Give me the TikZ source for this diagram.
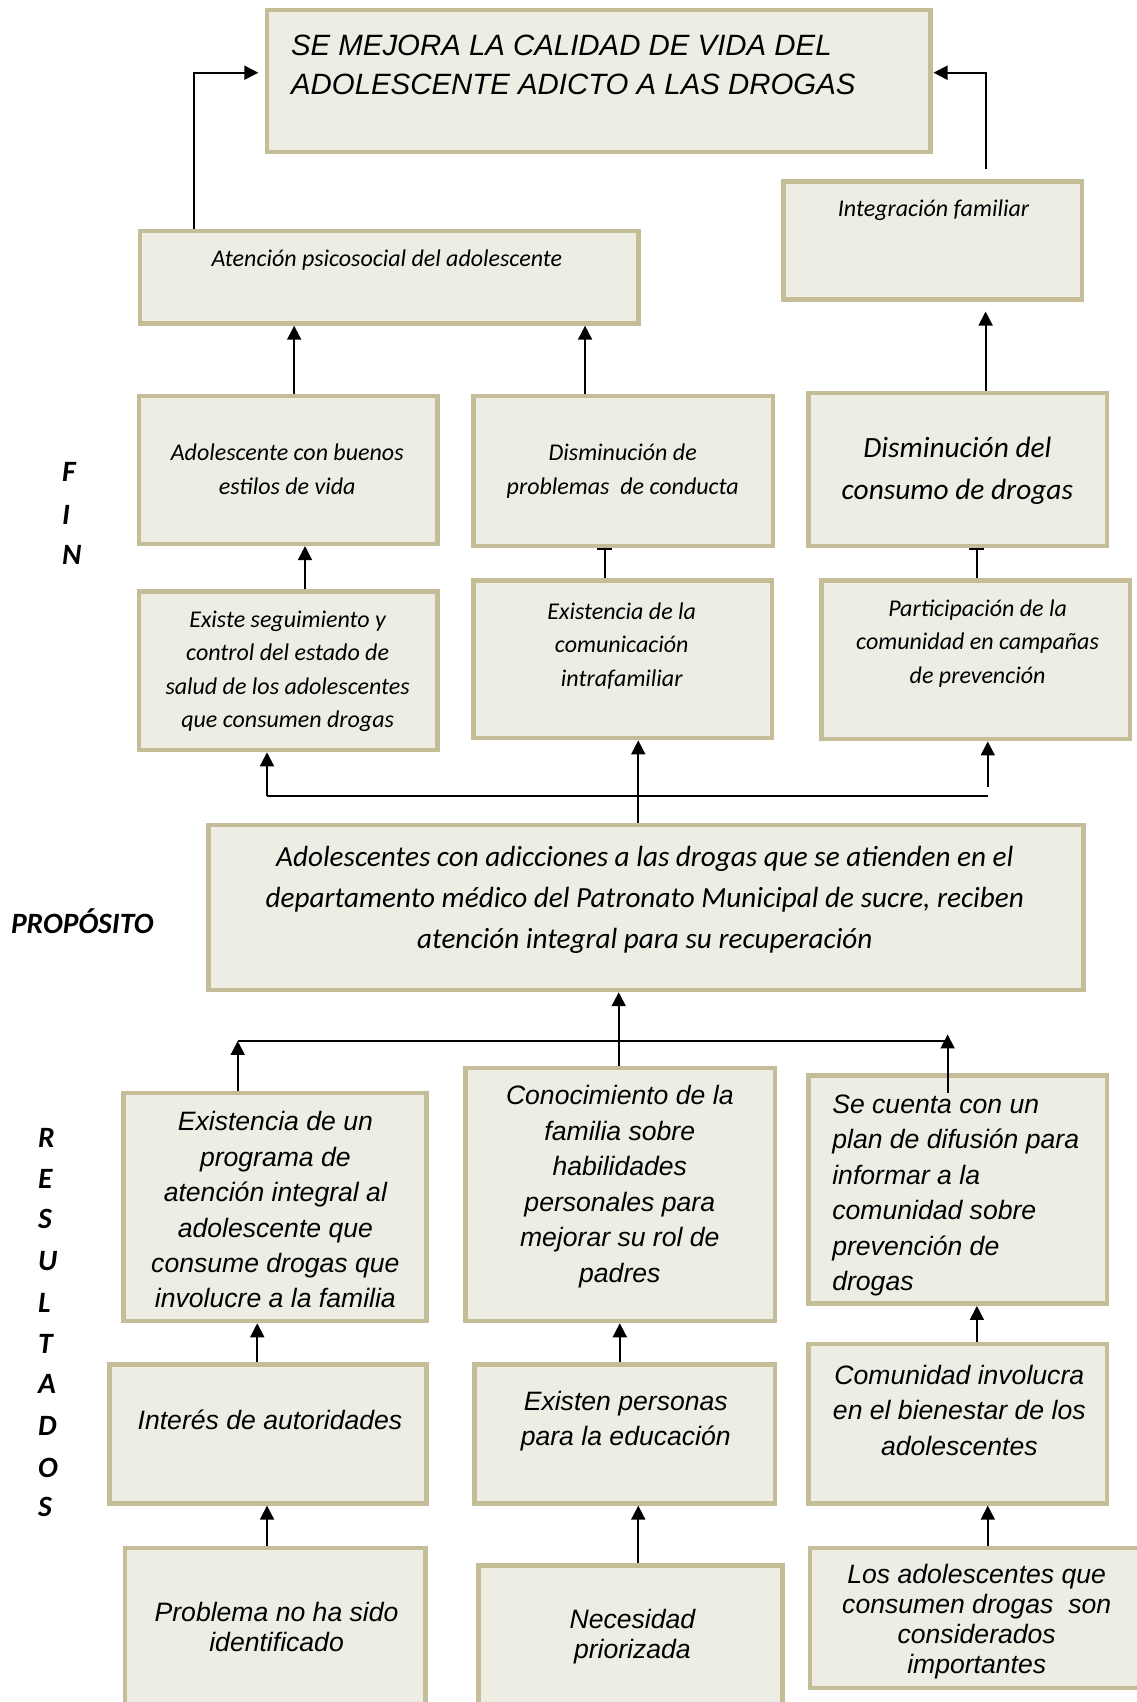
\documentclass[tikz,border=0pt]{standalone}
\usepackage{fontspec}
\usetikzlibrary{arrows.meta,fit}
\newfontfamily\calfont{Carlito}
\newfontfamily\arifont{Liberation Sans}
\definecolor{boxfill}{HTML}{EEEDE4}
\definecolor{boxline}{HTML}{C4BD97}
\newcommand\mybox[5]{\node[box,fit={(#2+2,#3+2) (#4-2,#5-2)}] (#1) {};}
\begin{document}
\begin{tikzpicture}[x=1.086pt,y=-1.086pt,
 box/.style={draw=boxline,fill=boxfill,line width=4.5pt,inner sep=0pt,rectangle},
 cal/.style={font=\calfont\itshape\fontsize{24}{33.5}\selectfont,align=center,inner sep=0pt},
 calbig/.style={font=\calfont\itshape\fontsize{29.4}{42}\selectfont,align=center,inner sep=0pt},
 calmid/.style={font=\calfont\itshape\fontsize{29.2}{41.5}\selectfont,align=center,inner sep=0pt},
 ari/.style={font=\arifont\itshape\fontsize{26.6}{35.5}\selectfont,align=center,inner sep=0pt},
 aritight/.style={font=\arifont\itshape\fontsize{26.6}{30}\selectfont,align=center,inner sep=0pt},
 titletext/.style={font=\arifont\itshape\fontsize{29.4}{39}\selectfont,align=left,inner sep=0pt,anchor=west},
 side/.style={font=\calfont\bfseries\itshape\fontsize{29.5}{34}\selectfont,inner sep=0pt,anchor=west},
 arr/.style={line width=1.8pt,-{Triangle[width=14pt,length=14pt]}},
 bararr/.style={line width=1.8pt,-{Bar[width=15pt,line width=2pt]}},
 ln/.style={line width=1.8pt}]
\useasboundingbox (0,0) rectangle (1047,1568);
% boxes
\mybox{b1}{244}{7}{859}{142}
\mybox{b2}{127}{211}{590}{300}
\mybox{b3}{720}{165}{999}{278}
\mybox{b4}{126}{363}{405}{503}
\mybox{b5}{434}{363}{714}{505}
\mybox{b6}{743}{360}{1022}{505}
\mybox{b7}{126}{543}{405}{693}
\mybox{b8}{434}{533}{713}{682}
\mybox{b9}{755}{533}{1043}{683}
\mybox{b10}{190}{758}{1000}{914}
\mybox{b11}{112}{1005}{395}{1219}
\mybox{b12}{427}{982}{716}{1219}
\mybox{b13}{743}{989}{1022}{1203}
\mybox{b14}{99}{1255}{395}{1387}
\mybox{b15}{435}{1255}{716}{1387}
\mybox{b16}{743}{1236}{1022}{1387}
\mybox{b17}{113}{1424}{394}{1600}
\mybox{b18}{439}{1440}{723}{1600}
\mybox{b19}{744}{1424}{1060}{1557}
% texts
\node[titletext] (t1) at (268,60) {SE MEJORA LA CALIDAD DE VIDA DEL\\ADOLESCENTE ADICTO A LAS DROGAS};
\node[cal] (t2) at (356.5,240) {Atención psicosocial del adolescente};
\node[cal] (t3) at (860,193.5) {Integración familiar};
\node[cal] (t4) at (264.6,432.5) {Adolescente con buenos\\estilos de vida};
\node[cal] (t5) at (573.7,434) {Disminución de\\problemas\ \ de conducta};
\node[calbig] (t6) at (882,434) {Disminución del\\consumo de drogas};
\node[cal] (t7) at (265,618.5) {Existe seguimiento y\\control del estado de\\salud de los adolescentes\\que consumen drogas};
\node[cal] (t8) at (572.8,595) {Existencia de la\\comunicación\\intrafamiliar};
\node[cal] (t9) at (900.6,592.5) {Participación de la\\comunidad en campañas\\de prevención};
\node[calmid] (t10) at (594,829) {Adolescentes con adicciones a las drogas que se atienden en el\\departamento médico del Patronato Municipal de sucre, reciben\\atención integral para su recuperación};
\node[ari] (t11) at (253.7,1114.5) {Existencia de un\\programa de\\atención integral al\\adolescente que\\consume drogas que\\involucre a la familia};
\node[ari] (t12) at (571,1093) {Conocimiento de la\\familia sobre\\habilidades\\personales para\\mejorar su rol de\\padres};
\node[ari,align=left,anchor=west] (t13) at (766.6,1101.5) {Se cuenta con un\\plan de difusión para\\informar a la\\comunidad sobre\\prevención de\\drogas};
\node[ari] (t14) at (248.7,1308.5) {Interés de autoridades};
\node[ari] (t15) at (576.5,1309) {Existen personas\\para la educación};
\node[ari] (t16) at (883.8,1299) {Comunidad involucra\\en el bienestar de los\\adolescentes};
\node[aritight] (t17) at (254.8,1498.5) {Problema no ha sido\\identificado};
\node[aritight] (t18) at (582.6,1507.5) {Necesidad\\priorizada};
\node[aritight] (t19) at (899.8,1494) {Los adolescentes que\\consumen drogas\ \ son\\considerados\\importantes};
% side labels
\node[side] (sF) at (57,435) {F};
\node[side] (sI) at (57,474) {I};
\node[side] (sN) at (57,511) {N};
\node[side] (sP) at (10,849) {PROPÓSITO};
\node[side] (sR1) at (35,1048) {R};
\node[side] (sR2) at (35,1086) {E};
\node[side] (sR3) at (35,1123.4) {S};
\node[side] (sR4) at (35,1161.8) {U};
\node[side] (sR5) at (35,1200) {L};
\node[side] (sR6) at (35,1238.5) {T};
\node[side] (sR7) at (35,1275.3) {A};
\node[side] (sR8) at (35,1313.7) {D};
\node[side] (sR9) at (35,1352) {O};
\node[side] (sR10) at (35,1388.6) {S};
% helper coordinates
\coordinate (xa) at (271,0);
\coordinate (xb) at (539,0);
\coordinate (xc) at (281,0);
\coordinate (xd) at (557,0);
\coordinate (xe) at (900,0);
\coordinate (xf) at (246,0);
\coordinate (xg) at (588,0);
\coordinate (xh) at (910,0);
\coordinate (xi) at (570,0);
\coordinate (xl) at (237,0);
\coordinate (xm) at (571,0);
% connectors
\coordinate (c1a) at (179,67);
\coordinate (c1b) at (238,67);
\draw[arr] (b2.north -| c1a) -- (c1a) -- (c1b);
\coordinate (c2a) at (908,156);
\coordinate (c2b) at (908,67);
\coordinate (c2c) at (860,67);
\draw[arr] (c2a) -- (c2b) -- (c2c);
\coordinate (c3) at (908,287);
\draw[arr] (b6.north -| c3) -- (c3);
\draw[arr] (b4.north -| xa) -- (b2.south -| xa);
\draw[arr] (b5.north -| xb) -- (b2.south -| xb);
\draw[arr] (b7.north -| xc) -- (b4.south -| xc);
\draw[bararr] (b8.north -| xd) -- (b5.south -| xd);
\draw[bararr] (b9.north -| xe) -- (b6.south -| xe);
\coordinate (h1) at (246,733);
\coordinate (h2) at (910,733);
\coordinate (h3) at (910,725);
\draw[ln] (h1) -- (h2);
\draw[arr] (h1) -- (b7.south -| h1);
\draw[arr] (h3) -- (b9.south -| h3);
\draw[arr] (b10.north -| xg) -- (b8.south -| xg);
\draw[arr] (b12.north -| xi) -- (b10.south -| xi);
\coordinate (h4) at (219,959);
\coordinate (h5) at (873,959);
\coordinate (h6) at (873,1007);
\coordinate (h7) at (873,953);
\draw[ln] (h4) -- (h5);
\draw[arr] (b11.north -| h4) -- (h4);
\draw[arr] (h6) -- (h7);
\draw[arr] (b14.north -| xl) -- (b11.south -| xl);
\draw[arr] (b15.north -| xm) -- (b12.south -| xm);
\draw[arr] (b16.north -| xe) -- (b13.south -| xe);
\draw[arr] (b17.north -| xf) -- (b14.south -| xf);
\draw[arr] (b18.north -| xg) -- (b15.south -| xg);
\draw[arr] (b19.north -| xh) -- (b16.south -| xh);
\end{tikzpicture}
\end{document}
